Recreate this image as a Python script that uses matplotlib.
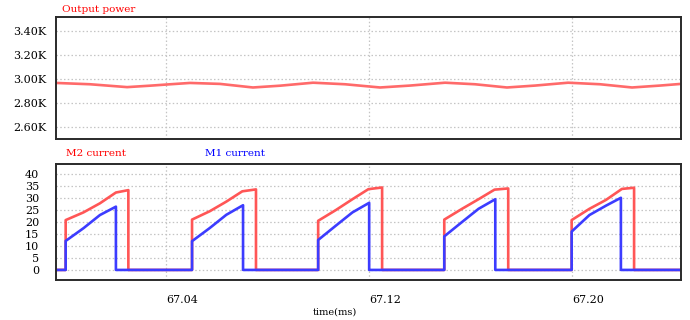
import numpy as np
import matplotlib
matplotlib.use("Agg")
import matplotlib.pyplot as plt
from matplotlib.ticker import FuncFormatter

# --- output power trace (time in ms, power in kW) ---
power_t = [66.9967, 67.0101, 67.0247, 67.0337, 67.0404, 67.0495, 67.0613,
           67.0743, 67.0850, 67.0980, 67.1106, 67.1244, 67.1362, 67.1500,
           67.1618, 67.1744, 67.1855, 67.1985, 67.2111, 67.2237, 67.2347,
           67.2430]
power_k = [2.968, 2.957, 2.933, 2.945, 2.955, 2.968, 2.960,
           2.930, 2.945, 2.970, 2.957, 2.930, 2.946, 2.970,
           2.957, 2.930, 2.946, 2.970, 2.957, 2.930, 2.946,
           2.960]

# --- switch currents, one entry per pulse ---
rise_t = [67.0005, 67.0503, 67.1000, 67.1497, 67.1999]
m1_fall_t = [67.0203, 67.0704, 67.1201, 67.1698, 67.2193]
m2_fall_t = [67.0252, 67.0755, 67.1252, 67.1749, 67.2245]

# sample offsets after each rise (ms); the last value of each pulse sits at its fall time
m1_offsets = [0.0, 0.0070, 0.0135]
m2_offsets = [0.0, 0.0070, 0.0135, 0.0198]

m1_pulses = [
    [12.1, 17.4, 22.9, 26.4],
    [12.0, 17.5, 23.0, 27.0],
    [12.5, 18.5, 24.0, 28.0],
    [14.0, 20.0, 25.5, 29.5],
    [16.0, 22.9, 26.8, 30.1],
]
m2_pulses = [
    [20.8, 24.0, 27.8, 32.3, 33.3],
    [21.0, 24.5, 28.5, 32.8, 33.6],
    [20.5, 25.0, 29.5, 33.7, 34.4],
    [21.0, 25.5, 29.5, 33.5, 34.0],
    [20.8, 25.5, 29.2, 33.8, 34.3],
]

T_START, T_END = 66.9967, 67.2430
X_TICKS = [67.04, 67.12, 67.20]

RED = "#ff5656"
BLUE = "#3c3cff"
FONT = "DejaVu Serif"


def build_trace(offsets, pulses, fall_times):
    t, v = [T_START], [0.0]
    for r, vals, f in zip(rise_t, pulses, fall_times):
        t.append(r)
        v.append(0.0)
        t.extend(r + o for o in offsets)
        v.extend(vals[:len(offsets)])
        t.append(f)
        v.append(vals[-1])
        t.append(f)
        v.append(0.0)
    t.append(T_END)
    v.append(0.0)
    return t, v


plt.rcParams["font.family"] = [FONT, "DejaVu Sans"]

fig = plt.figure(figsize=(6.9, 3.2), dpi=100)
ax1 = fig.add_axes([0.0812, 0.566, 0.9058, 0.381])
ax2 = fig.add_axes([0.0812, 0.125, 0.9058, 0.3625])

for ax in (ax1, ax2):
    ax.set_xlim(T_START, T_END)
    ax.set_xticks(X_TICKS)
    ax.grid(True, color="#c4c4c4", linestyle=(0, (1.2, 1.8)), linewidth=0.9)
    ax.tick_params(length=0, labelsize=8)
    for s in ax.spines.values():
        s.set_color("#2a2a2a")
        s.set_linewidth(1.4)

# top: output power
ax1.plot(power_t, power_k, color="#ff6a6a", lw=1.9, solid_joinstyle="round")
ax1.set_ylim(2.50, 3.52)
ax1.set_yticks([2.60, 2.80, 3.00, 3.20, 3.40])
ax1.yaxis.set_major_formatter(FuncFormatter(lambda v, p: f"{v:.2f}K"))
ax1.tick_params(axis="y", pad=7)
ax1.set_xticklabels([])
fig.text(62 / 690, 1 - 10 / 320, "Output power", color="red", fontsize=7.5,
         va="center", ha="left")

# bottom: currents (M1 drawn on top of M2)
t2, v2 = build_trace(m2_offsets, m2_pulses, m2_fall_t)
t1, v1 = build_trace(m1_offsets, m1_pulses, m1_fall_t)
ax2.plot(t2, v2, color=RED, lw=1.9)
ax2.plot(t1, v1, color=BLUE, lw=1.9)
ax2.set_ylim(-4.2, 44.2)
ax2.set_yticks(range(0, 45, 5))
ax2.tick_params(axis="y", pad=12)
ax2.set_xticklabels([f"{x:.2f}" for x in X_TICKS], ha="left")
ax2.tick_params(axis="x", pad=11)
fig.text(66 / 690, 1 - 153 / 320, "M2 current", color="red", fontsize=7.5,
         va="center", ha="left")
fig.text(205 / 690, 1 - 154 / 320, "M1 current", color="blue", fontsize=7.5,
         va="center", ha="left")
fig.text(335 / 690, 1 - 312 / 320, "time(ms)", color="black", fontsize=7,
         va="center", ha="center")

fig.savefig("out.png", dpi=100)
